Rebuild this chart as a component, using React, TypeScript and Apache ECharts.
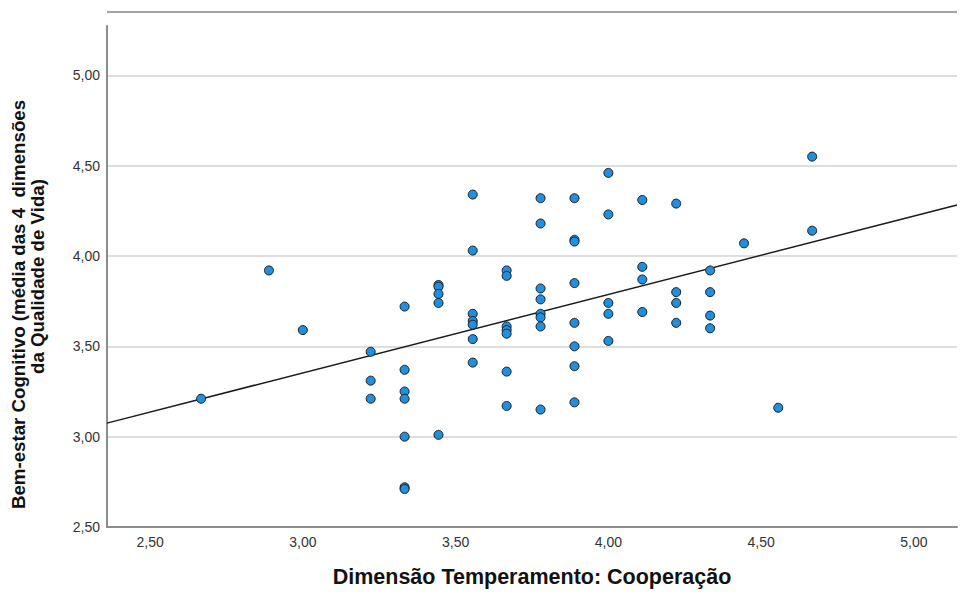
import React, { useEffect, useRef } from "react";
import * as echarts from "echarts";

// Observed data (x = Dimensão Temperamento: Cooperação, y = Bem-estar Cognitivo)
const pointX: number[] = [
  2.667,
  2.889,
  3.0,
  3.222, 3.222, 3.222,
  3.333, 3.333, 3.333, 3.333, 3.333, 3.333, 3.333,
  3.444, 3.444, 3.444, 3.444, 3.444,
  3.556, 3.556, 3.556, 3.556, 3.556, 3.556, 3.556,
  3.667, 3.667, 3.667, 3.667, 3.667, 3.667, 3.667,
  3.778, 3.778, 3.778, 3.778, 3.778, 3.778, 3.778, 3.778,
  3.889, 3.889, 3.889, 3.889, 3.889, 3.889, 3.889, 3.889,
  4.0, 4.0, 4.0, 4.0, 4.0,
  4.111, 4.111, 4.111, 4.111,
  4.222, 4.222, 4.222, 4.222,
  4.333, 4.333, 4.333, 4.333,
  4.444,
  4.556,
  4.667, 4.667,
];
const pointY: number[] = [
  3.21,
  3.92,
  3.59,
  3.47, 3.31, 3.21,
  3.72, 3.37, 3.25, 3.21, 3.0, 2.72, 2.71,
  3.84, 3.83, 3.79, 3.74, 3.01,
  4.34, 4.03, 3.68, 3.64, 3.62, 3.54, 3.41,
  3.92, 3.89, 3.61, 3.59, 3.57, 3.36, 3.17,
  4.32, 4.18, 3.82, 3.76, 3.68, 3.66, 3.61, 3.15,
  4.32, 4.09, 4.08, 3.85, 3.63, 3.5, 3.39, 3.19,
  4.46, 4.23, 3.74, 3.68, 3.53,
  4.31, 3.94, 3.87, 3.69,
  4.29, 3.8, 3.74, 3.63,
  3.92, 3.8, 3.67, 3.6,
  4.07,
  3.16,
  4.55, 4.14,
];

// Fit line endpoints (read at the plot edges)
const fitX: number[] = [2.359, 5.141];
const fitY: number[] = [3.075, 4.282];

// Axis extents
const xRange: number[] = [2.359, 5.141];
const yRange: number[] = [2.5, 5.273];
const tickStep = 0.5;

const xTitle = "Dimensão Temperamento: Cooperação";
const yTitleLines: string[] = ["Bem-estar Cognitivo (média das 4  dimensões", "da Qualidade de Vida)"];

const FONT = 'Arial, "Liberation Sans", sans-serif';
const fmt = (v: number) => v.toFixed(2).replace(".", ",");

export default function App() {
  const ref = useRef<HTMLDivElement>(null);
  useEffect(() => {
    document.body.style.margin = "0";
    if (!ref.current) return;
    const chart = echarts.init(ref.current, null, { renderer: "svg" });
    const gridLeft = 107;
    const gridRight = 11;
    const yTitleFont = {
      fontFamily: FONT,
      fontSize: 18.7,
      fontWeight: "bold" as const,
      color: "#111",
      lineHeight: 19,
    };
    chart.setOption({
      animation: false,
      backgroundColor: "#ffffff",
      grid: { left: gridLeft, right: gridRight, top: 26, bottom: 69, containLabel: false },
      graphic: [
        {
          type: "line",
          shape: { x1: gridLeft, y1: 12, x2: 968 - gridRight, y2: 12 },
          style: { stroke: "#a3a3a3", lineWidth: 2 },
          silent: true,
        },
      ],
      xAxis: {
        type: "value",
        min: xRange[0],
        max: xRange[1],
        minInterval: tickStep,
        maxInterval: tickStep,
        name: xTitle,
        nameLocation: "middle",
        nameGap: 39,
        nameTextStyle: { fontFamily: FONT, fontSize: 21.5, fontWeight: "bold", color: "#111" },
        axisLine: { show: true, lineStyle: { color: "#8c8c8c", width: 2 } },
        axisTick: { show: false },
        splitLine: { show: false },
        axisLabel: {
          formatter: fmt,
          showMinLabel: false,
          showMaxLabel: false,
          margin: 8,
          fontFamily: FONT,
          fontSize: 14,
          color: "#333",
        },
      },
      yAxis: {
        type: "value",
        min: yRange[0],
        max: yRange[1],
        interval: tickStep,
        name: `{a|${yTitleLines[0]}}\n{b|${yTitleLines[1]}}`,
        nameLocation: "middle",
        nameRotate: 90,
        nameGap: 60,
        nameTextStyle: {
          ...yTitleFont,
          align: "center",
          rich: {
            a: { ...yTitleFont, padding: [0, 56, 0, 0] },
            b: { ...yTitleFont },
          },
        },
        axisLine: { show: true, lineStyle: { color: "#8c8c8c", width: 2 } },
        axisTick: { show: false },
        splitLine: {
          show: true,
          showMinLine: false,
          showMaxLine: false,
          lineStyle: { color: "#d3d3d3", width: 1.5 },
        },
        axisLabel: {
          formatter: fmt,
          showMaxLabel: false,
          margin: 7,
          fontFamily: FONT,
          fontSize: 14,
          color: "#333",
        },
      },
      series: [
        {
          type: "line",
          data: fitX.map((x, i) => [x, fitY[i]]),
          showSymbol: false,
          symbol: "none",
          lineStyle: { color: "#1a1a1a", width: 1.5 },
          silent: true,
          z: 3,
        },
        {
          type: "scatter",
          data: pointX.map((x, i) => [x, pointY[i]]),
          symbol: "circle",
          symbolSize: 9,
          itemStyle: { color: "#1e8fe1", borderColor: "#1a1a1a", borderWidth: 1, opacity: 1 },
          z: 4,
        },
      ],
    });
    return () => chart.dispose();
  }, []);
  return <div ref={ref} style={{ width: 968, height: 596 }} />;
}
